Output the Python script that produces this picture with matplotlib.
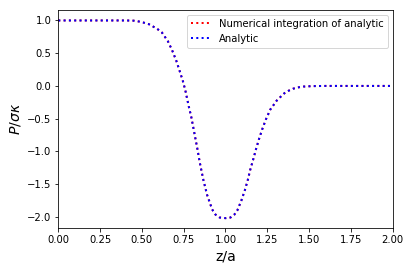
import matplotlib
matplotlib.use("Agg")
import matplotlib.pyplot as plt
import numpy as np

# values
z = [0.00, 0.20, 0.40, 0.45, 0.48, 0.50, 0.54, 0.59, 0.62, 0.655, 0.68, 0.705,
     0.725, 0.745, 0.76, 0.78, 0.795, 0.813, 0.831, 0.847, 0.867, 0.89, 0.92,
     0.94, 0.965, 1.00, 1.03, 1.053, 1.071, 1.095, 1.115, 1.133, 1.148, 1.166,
     1.182, 1.20, 1.22, 1.242, 1.268, 1.288, 1.306, 1.33, 1.352, 1.38, 1.406,
     1.44, 1.465, 1.52, 1.60, 1.80, 2.00]
analytic = [1.0, 1.0, 1.0, 0.997, 0.985, 0.975, 0.945, 0.875, 0.815, 0.685, 0.55, 0.39,
            0.235, 0.075, -0.07, -0.31, -0.47, -0.71, -0.95, -1.18, -1.43, -1.665, -1.885,
            -1.965, -2.01, -2.02, -2.01, -1.965, -1.90, -1.75, -1.60, -1.44, -1.28, -1.12,
            -0.97, -0.815, -0.66, -0.51, -0.36, -0.29, -0.225, -0.165, -0.112, -0.07, -0.041,
            -0.02, -0.01, -0.003, 0.0, 0.0, 0.0]
numerical = list(analytic)

fig = plt.figure(figsize=(410/72, 270/72), dpi=72)
ax = fig.add_axes([0.1422, 0.1544, 0.8156, 0.8086])

ax.plot(z, numerical, color='red', linestyle=':', linewidth=2,
        label='Numerical integration of analytic')
ax.plot(z, analytic, color='blue', linestyle=':', linewidth=2, label='Analytic')

ax.set_xlim(0, 2)
ax.set_ylim(-2.175, 1.16)
ax.set_xticks(np.arange(0, 2.01, 0.25))
ax.set_yticks(np.arange(-2.0, 1.01, 0.5))
ax.set_xlabel('z/a', fontsize=14)
ax.set_ylabel(r'$P/\sigma\kappa$', fontsize=14)
ax.legend(loc='upper right')

fig.savefig('out.png', dpi=72)
